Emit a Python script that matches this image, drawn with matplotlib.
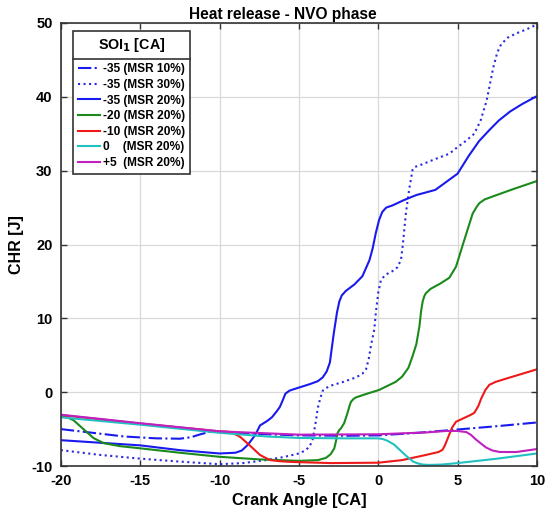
import matplotlib
matplotlib.use("Agg")
import matplotlib.pyplot as plt
from matplotlib.lines import Line2D

plt.rcParams["font.family"] = ["Liberation Sans", "DejaVu Sans"]
plt.rcParams["font.weight"] = "bold"
plt.rcParams["axes.unicode_minus"] = False

# -35 (MSR 10%)
x_m35_10 = [-20, -18, -16, -14, -12.5, -11.8, -11.2, -10.5, -9, -7, -5, -2, 0, 2.5, 5, 7.5, 10]
y_m35_10 = [-5.0, -5.5, -6.0, -6.25, -6.3, -6.1, -5.7, -5.3, -5.5, -5.7, -5.85, -5.9, -5.85,
            -5.5, -5.05, -4.6, -4.1]

# -35 (MSR 30%)
x_m35_30 = [-20, -17.5, -15, -12.5, -10, -8.5, -7.1, -6, -5, -4.6, -4.35, -4.15, -4.05, -3.92,
            -3.82, -3.65, -3.5, -3.25, -2.97, -2.2, -1.4, -1.0, -0.77, -0.6, -0.46, -0.25,
            -0.15, 0.0, 0.17, 0.45, 0.9, 1.2, 1.43, 1.55, 1.74, 1.95, 2.16, 2.3, 2.58, 3.5,
            4.48, 5.0, 5.5, 6.05, 6.45, 6.83, 7.25, 7.5, 7.74, 8.15, 8.7, 9.3, 10]
y_m35_30 = [-7.85, -8.5, -9.0, -9.4, -9.75, -9.6, -9.2, -8.8, -8.3, -7.9, -7.4, -6.6, -5.4,
            -3.8, -2.25, -0.8, 0.2, 0.6, 0.9, 1.4, 2.0, 2.5, 3.1, 4.5, 6.3, 8.5,
            10.8, 13.5, 15.2, 15.9, 16.4, 16.9, 17.9, 20.0, 24.2, 27.5, 30.1, 30.5, 30.7, 31.5,
            32.3, 33.2, 34.0, 35.0, 36.8, 39.5, 44.0, 46.0, 47.1, 48.0, 48.6, 49.1, 49.8]

# -35 (MSR 20%)
x_m35_20 = [-20, -15, -12.5, -10, -9, -8.6, -8.3, -8.1, -7.75, -7.45, -7.0, -6.7, -6.4, -6.2,
            -6.0, -5.85, -5.6, -5.4, -4.3, -3.8, -3.5, -3.25, -3.05, -2.8, -2.6, -2.45, -2.3,
            -2.05, -1.5, -1.0, -0.55, -0.35, -0.15, 0.05, 0.25, 0.5, 0.9, 1.6, 2.4, 3.6, 5.0,
            5.7, 6.35, 7.0, 7.6, 8.3, 9.05, 10]
y_m35_20 = [-6.5, -7.2, -7.85, -8.3, -8.2, -7.9, -7.3, -6.8, -5.8, -4.5, -3.9, -3.4, -2.6,
            -2.0, -1.0, -0.2, 0.2, 0.35, 1.1, 1.5, 2.0, 2.8, 4.0, 8.0, 10.8, 12.3, 13.1,
            13.7, 14.6, 15.7, 17.9, 19.5, 21.6, 23.3, 24.4, 25.0, 25.3, 26.0, 26.7, 27.4, 29.6,
            32.0, 34.0, 35.5, 36.8, 38.0, 39.0, 40.1]

# -20 (MSR 20%)
x_m20 = [-20, -19.6, -19.2, -18.6, -17.95, -17.3, -16.3, -15, -12.5, -10, -7.5, -5, -3.8,
         -3.3, -3.0, -2.77, -2.65, -2.58, -2.45, -2.35, -2.15, -1.95, -1.8, -1.72, -1.55, -1.4,
         -0.7, 0.05, 1.1, 1.5, 1.9, 2.15, 2.4, 2.6, 2.7, 2.8, 2.9, 3.0, 3.3, 3.9, 4.48, 4.9,
         5.42, 5.95, 6.2, 6.37, 6.7, 7.2, 8.5, 10]
y_m20 = [-3.15, -3.4, -3.8, -4.95, -6.2, -6.9, -7.3, -7.6, -8.2, -8.75, -9.1, -9.3, -9.2,
         -8.9, -8.4, -7.6, -6.5, -5.6, -5.1, -4.9, -4.2, -2.9, -1.8, -1.3, -0.9, -0.7,
         -0.2, 0.3, 1.4, 2.1, 3.3, 4.8, 6.5, 9.0, 11.0, 12.3, 13.0, 13.4, 14.0, 14.7, 15.5,
         17.0, 20.6, 24.2, 25.1, 25.6, 26.1, 26.5, 27.5, 28.6]

# -10 (MSR 20%)
x_m10 = [-20, -15, -10, -9.5, -9.1, -8.7, -8.1, -7.45, -7.1, -6.8, -6.2, -5.4, -3, 0, 1.5, 3,
         3.8, 4.05, 4.2, 4.35, 4.5, 4.65, 4.9, 5.2, 5.5, 5.8, 6.05, 6.3, 6.5, 6.75, 7.0, 7.4,
         8.0, 10]
y_m10 = [-3.1, -4.25, -5.3, -5.35, -5.6, -6.05, -7.2, -8.5, -8.9, -9.2, -9.35, -9.45, -9.6,
         -9.55, -9.2, -8.5, -8.1, -7.8, -7.2, -6.4, -5.6, -4.8, -4.0, -3.7, -3.4, -3.1,
         -2.8, -1.9, -0.8, 0.3, 1.0, 1.4, 1.8, 3.1]

# 0 (MSR 20%)
x_0 = [-20, -15, -10, -7, -5, -2, 0, 0.3, 0.6, 1.0, 1.4, 1.8, 2.2, 2.5, 2.8, 3.2, 4, 5, 7.5, 10]
y_0 = [-3.4, -4.4, -5.5, -6.0, -6.2, -6.25, -6.25, -6.35, -6.6, -7.1, -7.9, -8.7, -9.4,
       -9.65, -9.8, -9.85, -9.8, -9.6, -9.0, -8.3]

# +5 (MSR 20%)
x_p5 = [-20, -15, -10, -5, 0, 3, 4.3, 5.0, 5.55, 5.85, 6.15, 6.5, 6.8, 7.2, 7.65, 8.7, 10]
y_p5 = [-3.05, -4.2, -5.3, -5.75, -5.7, -5.45, -5.25, -5.25, -5.4, -5.8, -6.4, -7.0, -7.5,
        -7.9, -8.1, -8.1, -7.7]

series = [
    (x_m35_10, y_m35_10, "#1a1aee", "-.", "-35 (MSR 10%)"),
    (x_m35_30, y_m35_30, "#2a2ae0", ":", "-35 (MSR 30%)"),
    (x_m35_20, y_m35_20, "#1a1aee", "-", "-35 (MSR 20%)"),
    (x_m20, y_m20, "#1a8a1a", "-", "-20 (MSR 20%)"),
    (x_m10, y_m10, "#ee1a1a", "-", "-10 (MSR 20%)"),
    (x_0, y_0, "#22c0c0", "-", "0    (MSR 20%)"),
    (x_p5, y_p5, "#c020c0", "-", "+5  (MSR 20%)"),
]

fig = plt.figure(figsize=(5.53, 5.11), dpi=100)
ax = fig.add_axes([0.110, 0.088, 0.861, 0.867])

for xs, ys, c, ls, lab in series:
    ax.plot(xs, ys, color=c, linestyle=ls, linewidth=1.5, label=lab)

ax.set_xlim(-20, 10)
ax.set_ylim(-10, 50)
ax.set_xticks([-20, -15, -10, -5, 0, 5, 10])
ax.set_yticks([-10, 0, 10, 20, 30, 40, 50])
ax.grid(True, color="#d8d8d8", linewidth=0.9)
ax.set_axisbelow(True)
ax.tick_params(direction="in", top=True, right=True, labelsize=10.5, length=4, width=1,
               colors="#333333", labelcolor="black", pad=6)
for lbl in ax.get_xticklabels() + ax.get_yticklabels():
    lbl.set_fontweight("bold")
for sp in ax.spines.values():
    sp.set_color("#333333")
    sp.set_linewidth(1.2)

ax.set_title("Heat release - NVO phase", fontsize=11.2, fontweight="bold", pad=3, x=0.466)
ax.set_xlabel("Crank Angle [CA]", fontsize=11.8, fontweight="bold", labelpad=3)
ax.set_ylabel("CHR [J]", fontsize=11.5, fontweight="bold", labelpad=5)

leg = ax.legend(loc="upper left", bbox_to_anchor=(12 / 477, 1 - 8 / 443), borderaxespad=0,
                title="SOI$_\\mathbf{1}$ [CA]", fancybox=False, edgecolor="#333333",
                framealpha=1, handlelength=1.9, handletextpad=0.2, labelspacing=0.3,
                borderpad=0.4, prop={"size": 8.6, "weight": "bold"})
leg.get_title().set_fontsize(10.3)
leg.get_title().set_fontweight("bold")
leg.get_frame().set_linewidth(1.2)
leg._legend_box.sep = 7

# separator line under the legend title
fig.canvas.draw()
tb = leg.get_title().get_window_extent()
fb = leg.get_frame().get_window_extent()
tops = [t.get_window_extent().y1 for t in leg.get_texts()]
yline = (tb.y0 + max(tops)) / 2
inv = fig.transFigure.inverted()
(x0, y0), (x1, _) = inv.transform([(fb.x0, yline), (fb.x1, yline)])
fig.add_artist(Line2D([x0, x1], [y0, y0], color="#333333", linewidth=1.2,
                      transform=fig.transFigure))

fig.savefig("out.png", dpi=100)
